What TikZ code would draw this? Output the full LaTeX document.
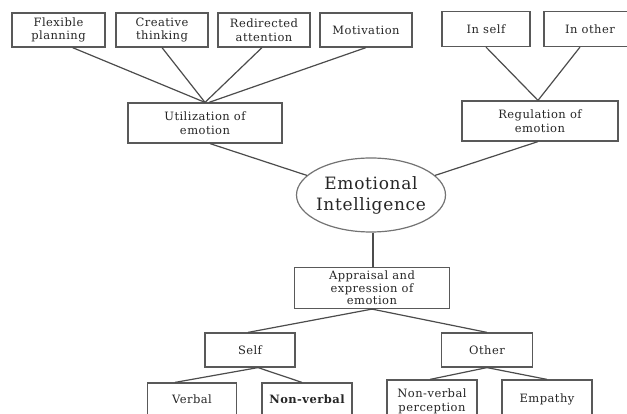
\documentclass[tikz,border=0pt]{standalone}
\usepackage{fontspec}
\setmainfont[LetterSpace=4]{DejaVu Serif}
\usetikzlibrary{shapes.geometric}
\begin{document}
\begin{tikzpicture}[x=1pt,y=-1pt,
  box/.style={draw=black!65,line width=1.2pt,fill=white,align=center,inner sep=0pt,
    font=\fontsize{11.5}{13.5}\selectfont,text=black!85},
  link/.style={draw=black!70,line width=1.2pt}]
\useasboundingbox (0,0) rectangle (627,414);
\fill[white] (0,0) rectangle (627,414);
% top row
\node[box,minimum width=93,minimum height=34] (fp) at (58.5,30) {Flexible\\planning};
\node[box,minimum width=92,minimum height=34] (ct) at (162,30) {Creative\\thinking};
\node[box,minimum width=92,minimum height=34] (ra) at (264,30) {Redirected\\attention};
\node[box,minimum width=92,minimum height=34] (mo) at (366,30) {Motivation};
\node[box,minimum width=88,minimum height=35] (is) at (486,29) {In self};
\node[box,minimum width=92,minimum height=35] (io) at (590,29) {In other};
% second level
\node[box,minimum width=154,minimum height=40] (ut) at (205,123) {Utilization of\\emotion};
\node[box,minimum width=156,minimum height=40] (re) at (540,121) {Regulation of\\emotion};
% centre
\node[ellipse,draw=black!55,line width=1.2pt,minimum width=149,minimum height=74,inner sep=-12pt,
  align=center,font=\fontsize{17}{21}\selectfont,text=black!85] (ei) at (371,195) {Emotional\\Intelligence};
% appraisal branch
\node[box,minimum width=155,minimum height=41,font=\fontsize{11.5}{12.3}\selectfont] (ap) at (372,288) {Appraisal and\\expression of\\emotion};
\node[box,minimum width=90,minimum height=34] (se) at (250,350) {Self};
\node[box,minimum width=91,minimum height=34] (ot) at (487,350) {Other};
\node[box,minimum width=89,minimum height=44,text depth=12] (ve) at (192,405) {Verbal};
\node[box,minimum width=90,minimum height=44,text depth=12] (nv) at (307,405) {\bfseries Non-verbal};
\node[box,minimum width=90,minimum height=48,text depth=8] (nvp) at (432,404) {Non-verbal\\perception};
\node[box,minimum width=90,minimum height=48,text depth=12] (em) at (547,404) {Empathy};
% connectors
\draw[link] ([xshift=14]fp.south) -- (ut.north);
\draw[link] (ct.south) -- (ut.north);
\draw[link] ([xshift=-2]ra.south) -- (ut.north);
\draw[link] (mo.south) -- ([xshift=4]ut.north);
\draw[link] (is.south) -- ([xshift=-2]re.north);
\draw[link] ([xshift=-10]io.south) -- ([xshift=-2]re.north);
\draw[link] ([xshift=5]ut.south) -- (ei.163);
\draw[link] ([xshift=-2]re.south) -- (ei.17);
\draw[link] ([xshift=2]ei.south) -- ([xshift=1]ap.north);
\draw[link] (ap.south) -- ([xshift=-2]se.north);
\draw[link] (ap.south) -- (ot.north);
\draw[link] ([xshift=8]se.south) -- ([xshift=-17]ve.north);
\draw[link] ([xshift=8]se.south) -- ([xshift=-5]nv.north);
\draw[link] (ot.south) -- ([xshift=-2]nvp.north);
\draw[link] (ot.south) -- (em.north);
\end{tikzpicture}
\end{document}
